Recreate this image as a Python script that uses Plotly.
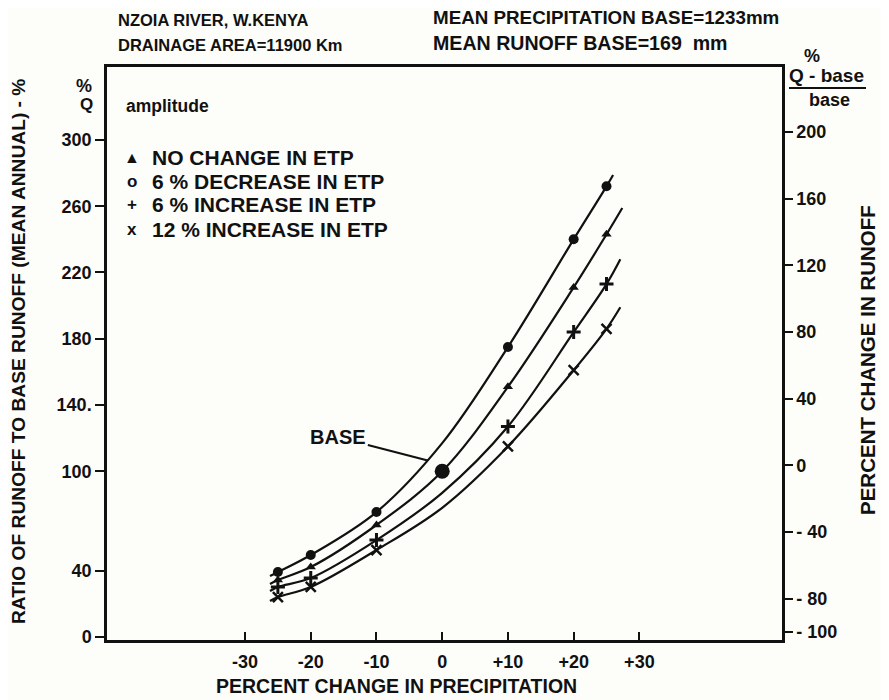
import plotly.graph_objects as go

# ---------------- data ----------------
precip_marks = [-25, -20, -10, 10, 20, 25]          # % change in precipitation with plotted symbols

# ratio of runoff to base runoff (%) at the marked points
dec6_marks   = [39.2, 49.5, 75.4, 175, 240, 272]     # 6 % decrease in ETP (filled dots)
nochg_marks  = [34.4, 42.2, 67.6, 151, 211, 243]     # no change in ETP (triangles)
inc6_marks   = [30.2, 35.6, 58.5, 127, 184, 213]     # 6 % increase in ETP (+)
inc12_marks  = [24.1, 30.2, 52.5, 115, 161, 186]     # 12 % increase in ETP (x)

# full curve traces (ends of drawn curves + value where curve crosses 0 %)
dec6_x   = [-26.2, -25, -20, -10, 0, 10, 20, 25, 26.0]
dec6_y   = [36.8, 39.2, 49.5, 75.4, 117, 175, 240, 272, 278.8]
nochg_x  = [-26.2, -25, -20, -10, 0, 10, 20, 25, 27.4]
nochg_y  = [32.0, 34.4, 42.2, 67.6, 100, 151, 211, 243, 258.9]
inc6_x   = [-26.2, -25, -20, -10, 0, 10, 20, 25, 27.1]
inc6_y   = [27.8, 30.2, 35.6, 58.5, 87, 127, 184, 213, 228]
inc12_x  = [-26.2, -25, -20, -10, 0, 10, 20, 25, 27.1]
inc12_y  = [21.7, 24.1, 30.2, 52.5, 78, 115, 161, 186, 199]

base_x = [0]
base_y = [100]

x_tickvals = [-30, -20, -10, 0, 10, 20, 30]
x_ticktext = ["-30", "-20", "-10", "0", "+10", "+20", "+30"]
y_tickvals = [0, 40, 100, 140, 180, 220, 260, 300]
y_ticktext = ["0", "40", "100", "140.", "180", "220", "260", "300"]
y2_tickvals = [-100, -80, -40, 0, 40, 80, 120, 160, 200]
y2_ticktext = ["- 100", "- 80", "- 40", "0", "40", "80", "120", "160", "200"]

legend_symbols = ["\u25B2", "o", "+", "x"]
legend_labels = ["NO CHANGE IN ETP", "6 % DECREASE IN ETP",
                 "6 % INCREASE IN ETP", "12 % INCREASE IN ETP"]

# ---------------- layout geometry (screen pixels; page body has an 8px margin) ----------------
OFF = 8
SW, SH = 889, 700
L, R, T, B = 107, 782, 67, 640
def px(x): return (x - L) / (R - L)
def py(y): return (B - y) / (B - T)

FONT = "Liberation Sans, Arial, DejaVu Sans, sans-serif"
INK = "#111111"

fig = go.Figure()

line_style = dict(color=INK, width=2.2, shape="spline", smoothing=1.0)
for xs, ys in [(dec6_x, dec6_y), (nochg_x, nochg_y), (inc6_x, inc6_y), (inc12_x, inc12_y)]:
    fig.add_trace(go.Scatter(x=xs, y=ys, mode="lines", line=line_style,
                             hoverinfo="skip", showlegend=False))

fig.add_trace(go.Scatter(x=precip_marks, y=dec6_marks, mode="markers",
                         marker=dict(symbol="circle", size=10, color=INK), showlegend=False))
fig.add_trace(go.Scatter(x=precip_marks, y=nochg_marks, mode="markers",
                         marker=dict(symbol="triangle-up", size=9, color=INK), showlegend=False))
fig.add_trace(go.Scatter(x=precip_marks, y=inc6_marks, mode="markers",
                         marker=dict(symbol="cross-thin", size=10, color=INK,
                                     line=dict(color=INK, width=3)), showlegend=False))
fig.add_trace(go.Scatter(x=precip_marks, y=inc12_marks, mode="markers",
                         marker=dict(symbol="x-thin", size=10, color=INK,
                                     line=dict(color=INK, width=2.5)), showlegend=False))
fig.add_trace(go.Scatter(x=base_x, y=base_y, mode="markers",
                         marker=dict(symbol="circle", size=15, color=INK), showlegend=False))

# dummy trace to activate the right axis
fig.add_trace(go.Scatter(x=[None], y=[None], yaxis="y2", showlegend=False, hoverinfo="skip"))

tickfont = dict(family=FONT, size=18, color=INK, weight="bold")

fig.update_layout(
    width=SW - OFF, height=SH - OFF,
    margin=dict(l=L - OFF, r=SW - R, t=T - OFF, b=SH - B),
    paper_bgcolor="#fdfdfa", plot_bgcolor="#fdfdfa",
    showlegend=False,
    xaxis=dict(range=[-51, 51.7], tickvals=x_tickvals, ticktext=x_ticktext,
               ticks="inside", ticklen=8, tickwidth=2, tickcolor=INK,
               showline=True, linewidth=2.5, linecolor=INK, mirror=True,
               showgrid=False, zeroline=False, tickfont=tickfont, ticklabelstandoff=4),
    yaxis=dict(range=[-1.8, 344], tickvals=y_tickvals, ticktext=y_ticktext,
               ticks="outside", ticklen=9, tickwidth=2, tickcolor=INK,
               showline=True, linewidth=2.5, linecolor=INK,
               showgrid=False, zeroline=False, tickfont=tickfont),
    yaxis2=dict(range=[-104.8, 239], tickvals=y2_tickvals, ticktext=y2_ticktext,
                overlaying="y", side="right",
                ticks="outside", ticklen=8, tickwidth=2, tickcolor=INK,
                showline=True, linewidth=2.5, linecolor=INK,
                showgrid=False, zeroline=False, tickfont=tickfont),
)

ann = []
def text(s, x, y, size=15, xanchor="left", angle=0):
    ann.append(dict(text=s, x=px(x), y=py(y), xref="paper", yref="paper",
                    xanchor=xanchor, yanchor="middle", showarrow=False, textangle=angle,
                    font=dict(family=FONT, size=size, color=INK, weight="bold")))

text("NZOIA RIVER, W.KENYA", 116, 20, 16.5)
text("DRAINAGE AREA=11900 Km", 116, 45, 16.5)
text("MEAN PRECIPITATION BASE=1233mm", 431, 18, 18.8)
text("MEAN RUNOFF BASE=169\u00a0\u00a0mm", 431, 43, 19.6)
text("%", 84, 86, 18, "center")
text("Q", 86, 104, 17, "center")
text("amplitude", 124, 106, 17.5)
for i, (s, lab) in enumerate(zip(legend_symbols, legend_labels)):
    yy = [157, 181, 204, 230][i]
    text(s, 132, yy, 17 if i else 16, "center")
    text(lab, 150, yy, 21)
text("%", 812, 56, 18, "center")
text("Q - base", 826, 76, 19, "center")
text("base", 829, 100, 18, "center")
text("RATIO OF RUNOFF TO BASE RUNOFF (MEAN ANNUAL) - %", 18, 352, 19.2, "center", -90)
text("PERCENT CHANGE IN RUNOFF", 867, 360, 20.5, "center", -90)
text("PERCENT CHANGE IN PRECIPITATION", 396, 686, 19.5, "center")

# BASE label with pointer arrow
ann.append(dict(text="BASE", x=-2.2, y=106.5, xref="x", yref="y",
                ax=-15.8, ay=120.5, axref="x", ayref="y",
                showarrow=True, arrowhead=0, arrowwidth=2.2, arrowcolor=INK,
                font=dict(family=FONT, size=20, color=INK, weight="bold")))

fig.update_layout(annotations=ann)

# fraction bar under "Q - base"
fig.add_shape(type="line", xref="paper", yref="paper",
              x0=px(789), x1=px(866), y0=py(88), y1=py(88),
              line=dict(color=INK, width=2))

fig.write_html("out.html")
